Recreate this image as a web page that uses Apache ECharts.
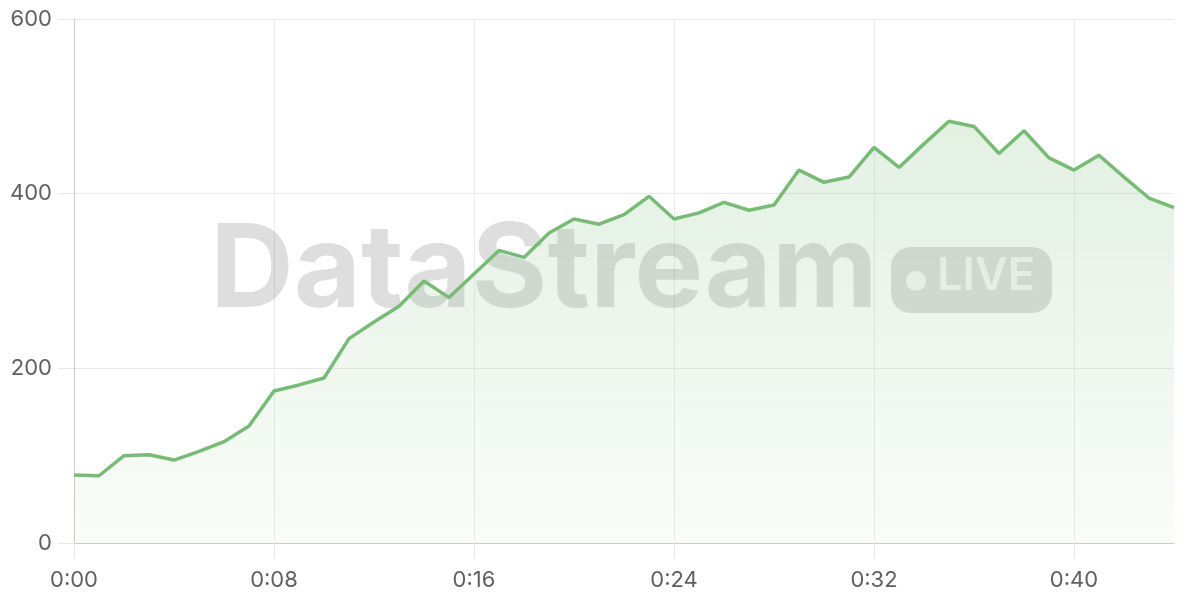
<!DOCTYPE html>
<html>
<head>
<meta charset="utf-8">
<script src="https://cdn.jsdelivr.net/npm/echarts@6/dist/echarts.min.js"></script>
<style>
html,body{margin:0;padding:0;background:#fff;}
#chart{width:1200px;height:600px;}
</style>
</head>
<body>
<div id="chart"></div>
<script>
const categories = ["0:00","0:01","0:02","0:03","0:04","0:05","0:06","0:07","0:08","0:09",
  "0:10","0:11","0:12","0:13","0:14","0:15","0:16","0:17","0:18","0:19",
  "0:20","0:21","0:22","0:23","0:24","0:25","0:26","0:27","0:28","0:29",
  "0:30","0:31","0:32","0:33","0:34","0:35","0:36","0:37","0:38","0:39",
  "0:40","0:41","0:42","0:43","0:44"];
const values = [78,77,100,101,95,105,116,134,174,181,
  189,234,253,271,300,281,308,335,327,355,
  371,365,376,397,371,378,390,381,387,427,
  413,419,453,430,457,483,477,446,472,441,
  427,444,419,395,384];
const yTicks = [0,200,400,600];

const chart = echarts.init(document.getElementById('chart'), null, {renderer:'canvas'});
const font = 'Inter, "Noto Sans", sans-serif';
chart.setOption({
  animation:false,
  grid:{left:74,right:26,top:19,bottom:57,containLabel:false},
  xAxis:{
    type:'category',
    data:categories,
    boundaryGap:false,
    axisLine:{show:true,lineStyle:{color:'#cccccc',width:1}},
    axisTick:{show:true,interval:7,length:15,lineStyle:{color:'#e6e6e6'}},
    axisLabel:{interval:7,margin:26,color:'#606060',fontSize:22,fontFamily:font},
    splitLine:{show:true,interval:7,lineStyle:{color:'#ebebeb',width:1}}
  },
  yAxis:{
    type:'value',
    min:yTicks[0],max:yTicks[yTicks.length-1],interval:200,
    axisLine:{show:true,lineStyle:{color:'#cccccc'}},
    axisTick:{show:true,length:16,lineStyle:{color:'#e6e6e6'}},
    axisLabel:{margin:22,color:'#606060',fontSize:22,fontFamily:font},
    splitLine:{show:true,lineStyle:{color:'#e9e9e9',width:1}}
  },
  graphic:[
    {type:'text',z:1,left:210,top:214,style:{text:'DataStream',font:'bold 116px Inter, "Noto Sans", sans-serif',fill:'rgba(0,0,0,0.13)'}},
    {type:'rect',z:1,shape:{x:891,y:247,width:161,height:66,r:20},style:{fill:'rgba(0,0,0,0.13)'}},
    {type:'circle',z:1,shape:{cx:916,cy:281,r:10},style:{fill:'rgba(255,255,255,0.75)'}},
    {type:'text',z:1,left:937,top:254,style:{text:'LIVE',font:'600 45px Inter, "Noto Sans", sans-serif',fill:'rgba(255,255,255,0.75)'}}
  ],
  series:[{
    type:'line',
    data:values,
    symbol:'none',
    lineStyle:{color:'#78bb77',width:3.5},
    itemStyle:{color:'#78bb77'},
    areaStyle:{color:new echarts.graphic.LinearGradient(0,0,0,1,[
      {offset:0,color:'rgba(120,187,119,0.30)'},
      {offset:1,color:'rgba(120,187,119,0.06)'}
    ])},
    z:2
  }]
});
</script>
</body>
</html>
